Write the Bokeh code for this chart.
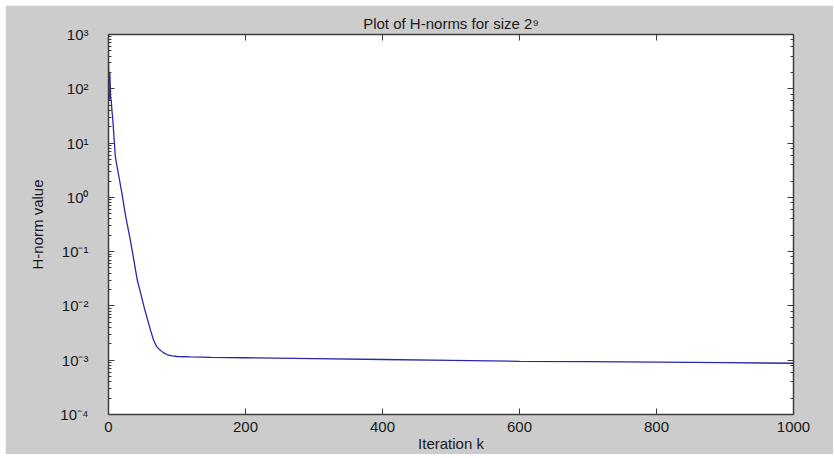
from bokeh.plotting import figure
from bokeh.models import (Range1d, LinearAxis, LogAxis, FixedTicker,
                          CustomJSTickFormatter)
from bokeh.embed import file_html
from bokeh.resources import INLINE

# ---- data ----
iteration_k = [0, 1, 2, 3, 4, 5, 6, 7, 8, 10, 12, 15, 20, 25, 32, 37, 42, 47, 52,
               56, 61, 66, 70, 74, 80, 86, 93, 100, 120, 150, 200, 300, 400, 500,
               600, 700, 800, 900, 1000]
h_norm = [300, 60, 200, 70, 60, 40, 30, 20, 13, 5.6, 4.0, 2.5, 1.1, 0.45, 0.16,
          0.07, 0.03, 0.017, 0.0095, 0.0062, 0.0037, 0.0023, 0.0018, 0.0016,
          0.00138, 0.00126, 0.0012, 0.00117, 0.00115, 0.00113, 0.00111, 0.00107,
          0.00103, 0.00099, 0.000955, 0.00094, 0.00092, 0.0009, 0.00088]
x_ticks = [0, 200, 400, 600, 800, 1000]
y_ticks = [1e-4, 1e-3, 1e-2, 1e-1, 1e0, 1e1, 1e2, 1e3]
y_tick_labels = ["10⁻⁴", "10⁻³", "10⁻²", "10⁻¹", "10⁰", "10¹", "10²", "10³"]
title_text = "Plot of H-norms for size 2⁹"
x_label = "Iteration k"
y_label = "H-norm value"

FONT = "Liberation Sans"
AXC = "#3c3c3c"
TXT = "#1a1a1a"

p = figure(width=828, height=445, frame_width=685, frame_height=380,
           x_range=Range1d(0, 1000), y_range=Range1d(1e-4, 1e3),
           y_axis_type="log", output_backend="svg", toolbar_location=None,
           min_border_left=103, min_border_right=40, min_border_top=29,
           min_border_bottom=36)
p.margin = (5, 0, 0, 5)
p.background_fill_color = "white"
p.border_fill_color = "#cccccc"
p.outline_line_color = None
p.grid.visible = False

p.title.text = title_text
p.title.align = "center"
p.title.text_font = FONT
p.title.text_font_size = "15px"
p.title.text_font_style = "normal"
p.title.text_color = TXT
p.title.standoff = 5

p.line(iteration_k, h_norm, line_color="#2828aa", line_width=1.3)


def blank():
    return CustomJSTickFormatter(code="return ' ';")


def style_axis(ax, minor):
    ax.axis_line_color = AXC
    ax.axis_line_width = 1.5
    ax.major_tick_in = 6
    ax.major_tick_out = 0
    ax.major_tick_line_color = AXC
    if minor:
        ax.minor_tick_in = 3
        ax.minor_tick_out = 0
        ax.minor_tick_line_color = AXC
    else:
        ax.minor_tick_line_color = None


# bottom axis
xa = p.xaxis[0]
xa.ticker = FixedTicker(ticks=x_ticks)
xa.axis_label = x_label
style_axis(xa, False)
xa.major_label_text_font = FONT
xa.major_label_text_font_size = "15px"
xa.major_label_text_color = TXT
xa.major_label_standoff = 7
xa.axis_label_text_font = FONT
xa.axis_label_text_font_size = "15px"
xa.axis_label_text_font_style = "normal"
xa.axis_label_text_color = TXT
xa.axis_label_standoff = 0

# top axis
ta = LinearAxis(ticker=FixedTicker(ticks=x_ticks), formatter=blank())
style_axis(ta, False)
ta.major_label_text_color = None
ta.major_label_text_font_size = "2px"
ta.major_label_standoff = 0
p.add_layout(ta, "above")

# left axis with 10^n labels
ya = p.yaxis[0]
ya.formatter = CustomJSTickFormatter(
    args=dict(vals=y_ticks, labs=y_tick_labels),
    code="""
let best = 0, bd = Infinity;
for (let i = 0; i < vals.length; i++) {
  const d = Math.abs(Math.log10(vals[i]) - Math.log10(tick));
  if (d < bd) { bd = d; best = i; }
}
return bd < 1e-6 ? labs[best] : '';
""")
ya.axis_label = y_label
style_axis(ya, True)
ya.major_label_text_font = FONT
ya.major_label_text_font_size = "15px"
ya.major_label_text_color = TXT
ya.major_label_standoff = 20
ya.axis_label_text_font = FONT
ya.axis_label_text_font_size = "15px"
ya.axis_label_text_font_style = "normal"
ya.axis_label_text_color = TXT
ya.axis_label_standoff = 11

# right axis
ra = LogAxis(formatter=blank())
style_axis(ra, True)
ra.major_label_text_color = None
ra.major_label_text_font_size = "2px"
ra.major_label_standoff = 0
p.add_layout(ra, "right")

open("out.html", "w").write(file_html(p, INLINE))
